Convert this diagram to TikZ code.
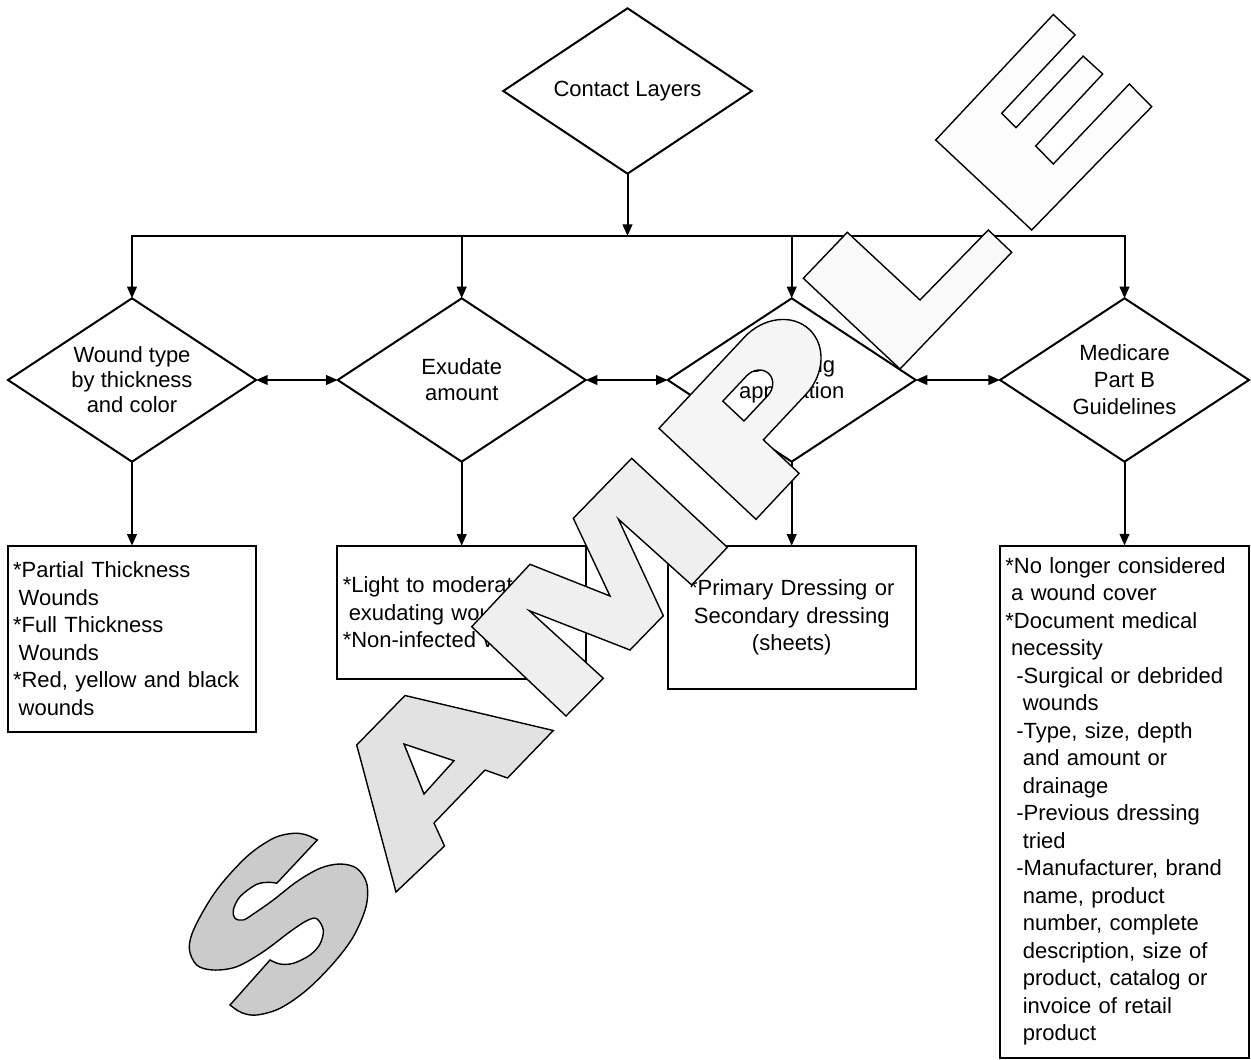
\documentclass[tikz,border=0pt]{standalone}
\usepackage{fontspec}
\setmainfont{Liberation Sans}
\usetikzlibrary{shapes.geometric,arrows.meta}
\definecolor{wmS}{HTML}{CBCBCB}
\definecolor{wmA}{HTML}{E2E2E2}
\definecolor{wmM}{HTML}{EFEFEF}
\definecolor{wmP}{HTML}{F5F5F5}
\definecolor{wmL}{HTML}{F9F9F9}
\definecolor{wmE}{HTML}{FCFCFC}
\begin{document}
\begin{tikzpicture}[x=0.5pt,y=-0.5pt,
  txt/.style={font=\fontsize{11}{13.75}\selectfont},
  dia/.style={draw,line width=1pt,shape=diamond,aspect=1.51,inner sep=0pt,outer sep=0pt,
    minimum width=124pt,minimum height=81.7pt,align=center,txt},
  box/.style={draw,line width=1pt,rectangle,inner xsep=2.7pt,inner ysep=0pt,outer sep=0pt,anchor=north,txt},
  arr/.style={line width=1pt,-{Triangle[length=5.8pt,width=4.8pt]}},
  darr/.style={line width=1pt,{Triangle[length=5.8pt,width=4.8pt]}-{Triangle[length=5.8pt,width=4.8pt]}},
  wm/.style={draw=black,line width=0.7pt,even odd rule,line join=miter}
]
\useasboundingbox[fill=white] (0,0) rectangle (1251,1059);

% ---------- diagram ----------
\node[dia,minimum width=124.3pt,minimum height=82.7pt] (top) at (627.5,91) {Contact Layers};
\coordinate (junc) at (627.5,236);

\node[dia,font=\fontsize{11}{12.5}\selectfont] (d1) at (132,380) {Wound type\\by thickness\\and color};
\node[dia,font=\fontsize{11}{13}\selectfont] (d2) at (461.7,380) {Exudate\\amount};
\node[dia,font=\fontsize{11}{13}\selectfont] (d3) at (791.7,380) {Dressing\\application};
\node[dia,font=\fontsize{11}{13.5}\selectfont,minimum width=124.5pt] (d4) at (1124.5,380) {Medicare\\Part B\\Guidelines};

\node[box,align=left,text width=118.95pt,minimum height=93pt] (b1) at (132,545.7)
 {*Partial Thickness\\\hspace*{2.8pt}Wounds\\{}*Full Thickness\\\hspace*{2.8pt}Wounds\\{}*Red, yellow and black\\\hspace*{2.8pt}wounds};
\node[box,align=left,text width=118.95pt,minimum height=66.8pt] (b2) at (461.7,545.7)
 {*Light to moderately\\\hspace*{3pt}exudating wounds\\{}*Non-infected wounds};
\node[box,align=center,text width=118.75pt,minimum height=71.8pt] (b3) at (791.7,545.7)
 {*Primary Dressing or\\Secondary dressing\\(sheets)};
\node[box,align=left,text width=119.1pt,minimum height=256pt] (b4) at (1124.5,545.5)
 {*No longer considered\\\hspace*{2.9pt}a wound cover\\{}*Document medical\\\hspace*{2.9pt}necessity\\
  \hspace*{5.5pt}-Surgical or debrided\\\hspace*{8.7pt}wounds\\
  \hspace*{5.5pt}-Type, size, depth\\\hspace*{8.7pt}and amount or\\\hspace*{8.7pt}drainage\\
  \hspace*{5.5pt}-Previous dressing\\\hspace*{8.7pt}tried\\
  \hspace*{5.5pt}-Manufacturer, brand\\\hspace*{8.7pt}name, product\\\hspace*{8.7pt}number, complete\\
  \hspace*{8.7pt}description, size of\\\hspace*{8.7pt}product, catalog or\\\hspace*{8.7pt}invoice of retail\\
  \hspace*{8.7pt}product};

\draw[arr] (top.south) -- (junc);
\draw[arr] (junc) -| (d1.north);
\draw[arr] (junc) -| (d2.north);
\draw[arr] (junc) -| (d3.north);
\draw[arr] (junc) -| (d4.north);

\draw[darr] (d1.east) -- (d2.west);
\draw[darr] (d2.east) -- (d3.west);
\draw[darr] (d3.east) -- (d4.west);

\draw[arr] (d1.south) -- (b1.north);
\draw[arr] (d2.south) -- (b2.north);
\draw[arr] (d3.south) -- (b3.north);
\draw[arr] (d4.south) -- (b4.north);

% ---------- SAMPLE watermark ----------
% S
\path[wm,fill=wmS] (317.3,840)
  -- plot[smooth,tension=0.55] coordinates {(317.3,840) (306.7,835) (293.3,833.3) (273.3,838.3) (246.7,856.7)
     (216.7,890) (195,926.7) (189.3,948.3) (196.7,965) (213.3,970) (236.7,966.7) (263.3,951.7) (290,931.7)
     (306.7,920.7) (316.7,918.7) (323.3,930) (320,944) (310,955) (293.3,963.3) (280,964) (270,960)}
  -- (230,1005)
  -- plot[smooth,tension=0.55] coordinates {(230,1005) (241.7,1012.7) (256.7,1015) (280,1008.3) (306.7,990)
     (333.3,963.3) (353.3,936.7) (366,906.7) (366.7,883.3) (356.7,868.3) (340,864) (320,868.3) (296.7,881.7)
     (273.3,900) (253.3,914) (243.3,920) (235,918.3) (233.3,910) (240,896.7) (256.7,884.3) (270,882.3) (276.7,883.3)}
  -- cycle;
% A
\path[wm,fill=wmA] (405,695.5) -- (553.3,730.5) -- (507.5,778) -- (485,770) -- (434,823) -- (444.5,846)
  -- (396,892) -- (356.7,745) -- cycle
  (404,744) -- (454,760.7) -- (424,794) -- cycle;
% M
\path[wm,fill=wmM] (631.7,458.3) -- (727.3,547.3) -- (691.7,585) -- (618.3,519) -- (663.3,615.7) -- (630,650)
  -- (529.3,610.7) -- (603.3,678.3) -- (566,716) -- (471.7,626.7) -- (530,564.3) -- (610,596) -- (573.3,518.3) -- cycle;
% P
\begin{scope}[shift={(756,519.3)},x={(0.34195pt,0.36475pt)},y={(-0.36475pt,0.34195pt)}]
\path[wm,fill=wmP] (0,0) -- (63,0) -- (63,49) -- (125,49)
   .. controls (152.6,49) and (175,67.8) .. (175,91)
   .. controls (175,114.2) and (152.6,133) .. (125,133) -- (0,133) -- cycle
  (63.5,76) -- (98,76) .. controls (107.4,76) and (115,82.5) .. (115,90.5)
   .. controls (115,98.5) and (107.4,105) .. (98,105) -- (63.5,105) -- cycle;
\end{scope}
% L
\path[wm,fill=wmL] (900,369) -- (1011.7,252.3) -- (988.3,230) -- (920,300) -- (847.3,232.3) -- (803.3,278.3) -- cycle;
% E
\path[wm,fill=wmE] (1031.7,230) -- (1151.7,106.7) -- (1129.3,84) -- (1053.3,164) -- (1035.7,146) -- (1102.7,74)
  -- (1083.1,56.1) -- (1016,127.7) -- (1001.7,113.3) -- (1075.1,34.9) -- (1053.3,14.5) -- (935.7,140) -- cycle;
\end{tikzpicture}
\end{document}
